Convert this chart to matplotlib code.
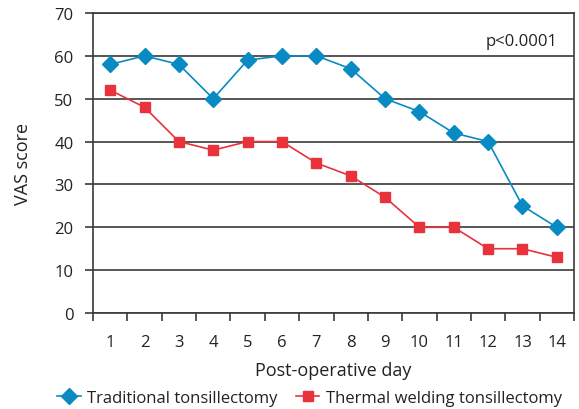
import matplotlib.pyplot as plt
from matplotlib.ticker import FixedLocator

plt.rcParams['font.family'] = ['Open Sans', 'DejaVu Sans']

days = list(range(1, 15))
day_labels = [str(d) for d in days]
traditional = [58, 60, 58, 50, 59, 60, 60, 57, 50, 47, 42, 40, 25, 20]
thermal = [52, 48, 40, 38, 40, 40, 35, 32, 27, 20, 20, 15, 15, 13]

blue = '#0a8ac2'
red = '#e8323c'
grid_col = '#3a3a3a'

fig = plt.figure(figsize=(5.79, 4.10), dpi=100)
ax = fig.add_axes([0.1606, 0.2341, 0.8308, 0.7318])

ax.plot(days, traditional, color=blue, marker='D', markersize=8, linewidth=1.2,
        label='Traditional tonsillectomy', zorder=3)
ax.plot(days, thermal, color=red, marker='s', markersize=7, linewidth=1.2,
        label='Thermal welding tonsillectomy', zorder=3)

ax.set_xlim(0.5, 14.5)
ax.set_ylim(0, 70)
ax.set_yticks(range(0, 71, 10))
ax.yaxis.grid(True, color=grid_col, linewidth=1.2)
ax.set_axisbelow(True)

# category axis: ticks on boundaries, labels at centres
ax.xaxis.set_major_locator(FixedLocator([d + 0.5 for d in range(0, 15)]))
ax.set_xticklabels([])
ax.xaxis.set_minor_locator(FixedLocator(days))
ax.set_xticklabels(day_labels, minor=True)
ax.tick_params(axis='x', which='major', length=6, width=1.2, color=grid_col, direction='out')
ax.tick_params(axis='x', which='minor', length=0, pad=15, labelsize=12, labelcolor='#222222')
ax.tick_params(axis='y', length=6, width=1.2, color=grid_col, pad=8, labelsize=12,
               labelcolor='#222222', right=False)

for s in ax.spines.values():
    s.set_color(grid_col)
    s.set_linewidth(1.2)

ax.set_xlabel('Post-operative day', fontsize=13, color='#222222', labelpad=8)
ax.set_ylabel('VAS score', fontsize=13, color='#222222', labelpad=16)
ax.text(0.965, 0.905, 'p<0.0001', transform=ax.transAxes, ha='right', va='center',
        fontsize=12, color='#222222')

fig.legend(loc='lower center', bbox_to_anchor=(0.535, -0.03), ncol=2, frameon=False,
           fontsize=12, handlelength=1.4, columnspacing=1.1, handletextpad=0.4,
           labelcolor='#222222')

fig.savefig('out.png', dpi=100)
